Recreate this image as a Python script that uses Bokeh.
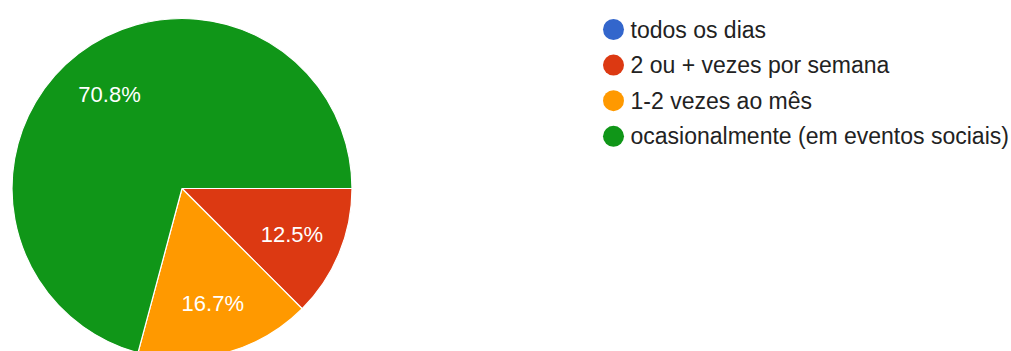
import math
from bokeh.plotting import figure
from bokeh.models import Range1d, ColumnDataSource
from bokeh.core.properties import value
from bokeh.embed import file_html
from bokeh.resources import INLINE

# ---- data ----
categories = ["todos os dias", "2 ou + vezes por semana", "1-2 vezes ao mês",
              "ocasionalmente (em eventos sociais)"]
counts = [0, 3, 4, 17]
colors = ["#3366cc", "#dc3912", "#ff9900", "#109618"]

# ---- layout (data units == screen pixels; y = -screen y) ----
W, H = 1011, 351
cx, cy, R = 181.5, -188.0, 170.0
label_frac = 0.7
FONT = "Liberation Sans"

p = figure(width=W, height=H, output_backend="svg", toolbar_location=None,
           x_range=Range1d(0, W), y_range=Range1d(-H, 0),
           x_axis_location=None, y_axis_location=None, min_border=0)
p.outline_line_color = None
p.xgrid.visible = False
p.ygrid.visible = False
p.background_fill_color = "white"
p.border_fill_color = "white"

total = sum(counts)
starts, ends, cols, lx, ly, ltxt = [], [], [], [], [], []
cum = 0.0
for c, col in zip(counts, colors):
    frac = c / total
    a0 = -cum * 2 * math.pi
    a1 = -(cum + frac) * 2 * math.pi
    cum += frac
    if c == 0:
        continue
    starts.append(a0)
    ends.append(a1)
    cols.append(col)
    mid = (a0 + a1) / 2
    lx.append(cx + label_frac * R * math.cos(mid))
    ly.append(cy + label_frac * R * math.sin(mid))
    ltxt.append(f"{frac * 100:.1f}%")

src = ColumnDataSource(dict(start=starts, end=ends, color=cols))
p.wedge(x=cx, y=cy, radius=R, start_angle="start", end_angle="end",
        direction="clock", fill_color="color", line_color="white",
        line_width=1.2, source=src)

p.text(x=lx, y=ly, text=ltxt, text_color="white", text_font=value(FONT),
       text_font_size="22px", text_align="center", text_baseline="middle")

# ---- legend ----
leg_x, leg_y0, leg_dy = 613.0, -29.0, -35.6
leg_ys = [leg_y0 + i * leg_dy for i in range(len(categories))]
p.scatter(x=[leg_x] * len(categories), y=leg_ys, size=21, marker="circle",
          fill_color=colors, line_color=None)
p.text(x=[leg_x + 17] * len(categories), y=leg_ys, text=categories,
       text_color="#222222", text_font=value(FONT), text_font_size="23px",
       text_align="left", text_baseline="middle")

open("out.html", "w").write(file_html(p, INLINE))
